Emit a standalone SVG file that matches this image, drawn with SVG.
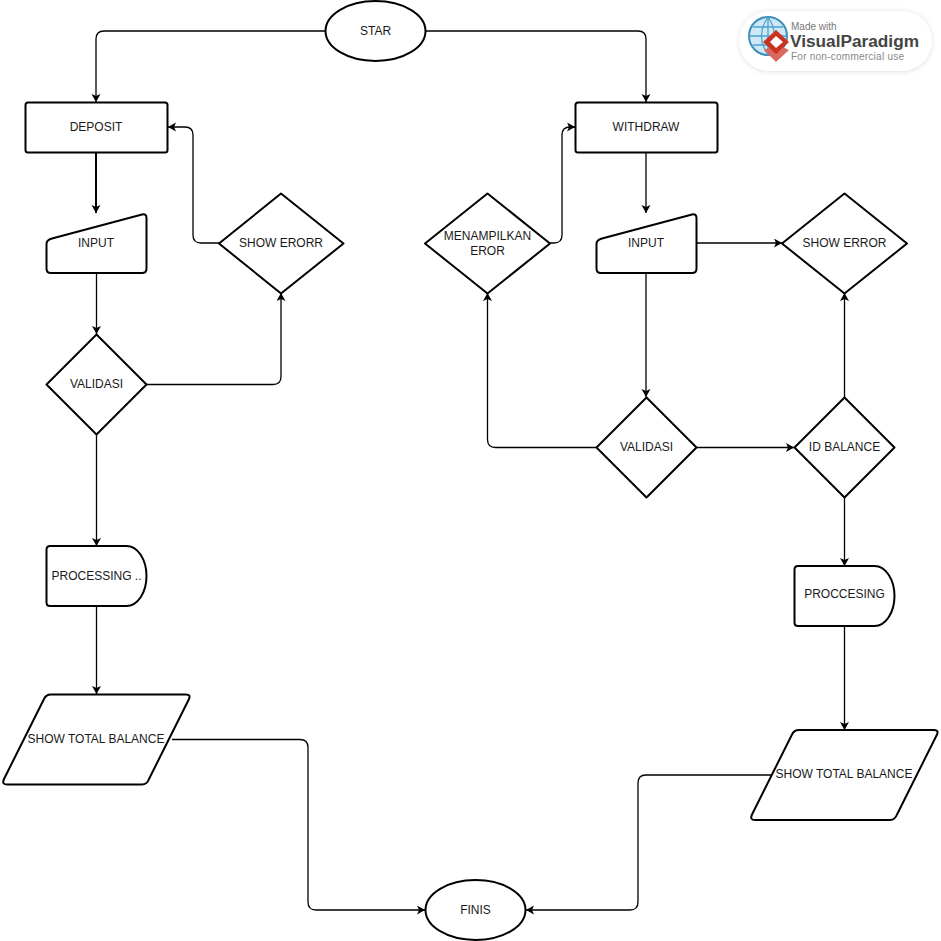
<svg xmlns="http://www.w3.org/2000/svg" width="941" height="941" viewBox="0 0 941 941">
<style>
.s{fill:#fff;stroke:#000;stroke-width:2;stroke-linejoin:round}
.c{fill:none;stroke:#000;stroke-width:1.3}
.t{font-family:"Liberation Sans",Arial,sans-serif;font-size:12px;fill:#1a1a1a;text-anchor:middle}
</style>
<defs>
<marker id="a" markerUnits="userSpaceOnUse" markerWidth="10" markerHeight="10" refX="8" refY="4.5" orient="auto"><path d="M0 0L8 4.5L0 9L2 4.5Z" fill="#000"/></marker>
<filter id="b" x="-10%" y="-20%" width="120%" height="140%"><feGaussianBlur stdDeviation="2.5"/></filter>
</defs>
<rect width="941" height="941" fill="#fff"/>
<g id="connectors">
<path class="c" d="M325.500 31H104Q96 31 96 39V102" marker-end="url(#a)"/>
<path class="c" d="M425.500 31H638Q646 31 646 39V102" marker-end="url(#a)"/>
<path class="c" style="stroke-width:2" d="M96 153V213" marker-end="url(#a)"/>
<path class="c" d="M96.500 273V334" marker-end="url(#a)"/>
<path class="c" d="M146.500 384.500H273Q281 384.500 281 376.500V293" marker-end="url(#a)"/>
<path class="c" d="M219 243H201Q193 243 193 235V135Q193 127 185 127H168" marker-end="url(#a)"/>
<path class="c" d="M96.500 434.500V546" marker-end="url(#a)"/>
<path class="c" d="M96.500 606V694" marker-end="url(#a)"/>
<path class="c" d="M172 739.500H300Q308 739.500 308 747.500V902Q308 910 316 910H425" marker-end="url(#a)"/>
<path class="c" d="M646 153V213" marker-end="url(#a)"/>
<path class="c" d="M697 243H782" marker-end="url(#a)"/>
<path class="c" d="M646 273V397" marker-end="url(#a)"/>
<path class="c" d="M596.500 447.500H495.500Q487.500 447.500 487.500 439.500V293" marker-end="url(#a)"/>
<path class="c" d="M550 243H554Q562 243 562 235V135Q562 127 570 127H575" marker-end="url(#a)"/>
<path class="c" d="M696.500 447.500H794" marker-end="url(#a)"/>
<path class="c" d="M844.500 397V293" marker-end="url(#a)"/>
<path class="c" d="M844.500 497.500V566" marker-end="url(#a)"/>
<path class="c" d="M844.500 626V730" marker-end="url(#a)"/>
<path class="c" d="M775 775H646Q638 775 638 783V902Q638 910 630 910H526" marker-end="url(#a)"/>
</g>
<g id="star"><ellipse class="s" cx="375.500" cy="31" rx="50" ry="30"/><text class="t" x="375.500" y="35">STAR</text></g>
<g id="deposit"><rect class="s" x="25.500" y="102.500" width="142" height="50" rx="2.500"/><text class="t" x="96" y="131">DEPOSIT</text></g>
<g id="withdraw"><rect class="s" x="575.500" y="102.500" width="142" height="50" rx="2.500"/><text class="t" x="646" y="131">WITHDRAW</text></g>
<g id="input-left"><path class="s" d="M52 238.500L142 214.500Q146.500 213.500 146.500 218V268.500Q146.500 273 142 273H51Q46.500 273 46.500 268.500V244Q46.500 240 52 238.500Z"/><text class="t" x="96" y="247">INPUT</text></g>
<g id="input-right"><path class="s" d="M602 238.500L692 214.500Q696.500 213.500 696.500 218V268.500Q696.500 273 692 273H601Q596.500 273 596.500 268.500V244Q596.500 240 602 238.500Z"/><text class="t" x="646" y="247">INPUT</text></g>
<g id="show-erorr"><path class="s" d="M281 193.500L343.500 243.500L281 293.500L219 243.500Z"/><text class="t" x="281" y="247">SHOW ERORR</text></g>
<g id="menampilkan-eror"><path class="s" d="M487.500 193.500L550 243.500L487.500 293.500L425 243.500Z"/><text class="t" x="487.500" y="240">MENAMPILKAN</text><text class="t" x="487.500" y="255">EROR</text></g>
<g id="show-error"><path class="s" d="M844.500 193.500L907 243.500L844.500 293.500L782 243.500Z"/><text class="t" x="844.500" y="247">SHOW ERROR</text></g>
<g id="validasi-left"><path class="s" d="M96.500 334.500L146.500 384.500L96.500 434.500L46.500 384.500Z"/><text class="t" x="96.500" y="388">VALIDASI</text></g>
<g id="validasi-right"><path class="s" d="M646.500 397.500L696.500 447.500L646.500 497.500L596.500 447.500Z"/><text class="t" x="646.500" y="451">VALIDASI</text></g>
<g id="id-balance"><path class="s" d="M844.500 397.500L894.500 447.500L844.500 497.500L794.500 447.500Z"/><text class="t" x="844.500" y="451">ID BALANCE</text></g>
<g id="processing-left"><path class="s" d="M50 546H126.500A20 30 0 0 1 146.500 576A20 30 0 0 1 126.500 606H50Q46.500 606 46.500 602.500V549.500Q46.500 546 50 546Z"/><text class="t" x="96.500" y="580">PROCESSING ..</text></g>
<g id="processing-right"><path class="s" d="M798 566H874.500A20 30 0 0 1 894.500 596A20 30 0 0 1 874.500 626H798Q794.500 626 794.500 622.500V569.500Q794.500 566 798 566Z"/><text class="t" x="844.500" y="598">PROCCESING</text></g>
<g id="total-left"><path class="s" d="M51 694.500H186Q191 694.500 189 699L149 779Q147 784.500 142 784.500H7Q1.500 784.500 4 779L44 699Q46 694.500 51 694.500Z"/><text class="t" x="96" y="743">SHOW TOTAL BALANCE</text></g>
<g id="total-right"><path class="s" d="M799 730H934Q939 730 937 734.500L897 814.500Q895 820 890 820H755Q749.500 820 752 814.500L792 734.500Q794 730 799 730Z"/><text class="t" x="844" y="778">SHOW TOTAL BALANCE</text></g>
<g id="finis"><ellipse class="s" cx="475.500" cy="910" rx="50" ry="30"/><text class="t" x="475.500" y="914">FINIS</text></g>
<g id="watermark">
<rect x="739" y="11" width="193" height="61" rx="30" fill="#000" opacity=".12" filter="url(#b)"/>
<rect x="739" y="11" width="193" height="60" rx="30" fill="#fff"/>
<circle cx="768" cy="36" r="19" fill="#cfe8f5" stroke="#3f8fb8" stroke-width="2"/>
<path d="M749 36H787M768 17V55M768 17Q755 36 768 55M768 17Q781 36 768 55M753 27H783M753 45H783" fill="none" stroke="#4aa3d0" stroke-width="1.300"/>
<path d="M764 50L776 62L789 50L776 44Z" fill="#d9695e"/>
<path d="M776 30L789 42L776 54L763 42Z" fill="#c8321f"/>
<path d="M776 36L783 42L776 48L770 42Z" fill="#fff"/>
<text x="791" y="30" style="font-family:'Liberation Sans',Arial,sans-serif;font-size:10px;fill:#777">Made with</text>
<text x="790" y="47" style="font-family:'Liberation Sans',Arial,sans-serif;font-size:16px;font-weight:700;fill:#444" textLength="129" lengthAdjust="spacingAndGlyphs">VisualParadigm</text>
<text x="791" y="60" style="font-family:'Liberation Sans',Arial,sans-serif;font-size:10px;fill:#888" textLength="113">For non-commercial use</text>
</g>
</svg>
